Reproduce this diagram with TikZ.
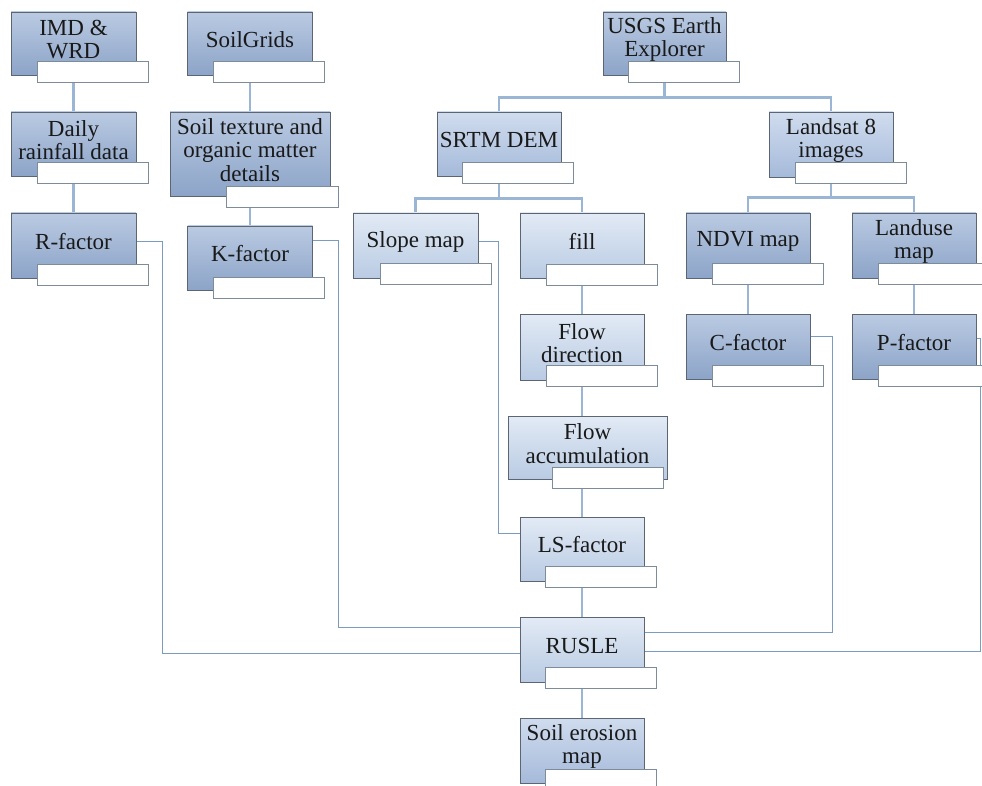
\documentclass[tikz,border=0pt]{standalone}
\usepackage{fontspec}
\setmainfont{Liberation Serif}
\usetikzlibrary{positioning, calc, backgrounds}

\definecolor{darktop}{HTML}{BACAE2}
\definecolor{darkbot}{HTML}{8CA4C8}
\definecolor{midtop}{HTML}{D0DCEE}
\definecolor{midbot}{HTML}{A5BADA}
\definecolor{lighttop}{HTML}{E2EAF5}
\definecolor{lightbot}{HTML}{B9CBE3}
\definecolor{rim}{HTML}{5C6673}
\definecolor{tagrim}{HTML}{7E8B98}
\definecolor{wire}{HTML}{9BB5D5}
\definecolor{thinwire}{HTML}{7B9BBF}

\begin{document}
\begin{tikzpicture}[x=1pt, y=-1pt,
        box/.style={rectangle, draw=rim, line width=0.9pt, inner sep=0pt},
        darkbox/.style={box, top color=darktop, bottom color=darkbot},
        midbox/.style={box, top color=midtop, bottom color=midbot},
        lightbox/.style={box, top color=lighttop, bottom color=lightbot},
        txt/.style={align=center, yshift=4pt, text=black!90, font=\fontsize{23}{23.5}\selectfont},
        tag/.style={rectangle, draw=tagrim, line width=0.8pt, fill=white, inner sep=0pt, minimum width=111pt, minimum height=21pt},
        tree/.style={draw=wire, line width=2.5pt},
        link/.style={draw=thinwire, line width=1pt}]

        \useasboundingbox (0,0) rectangle (982,786);

        % Rainfall branch
        \node [darkbox, minimum width=125pt, minimum height=63pt, label={[txt]center:{IMD \&\\WRD}}] (imd) at (73.5,43.5) {};
        \node [darkbox, minimum width=125pt, minimum height=64pt, label={[txt]center:{Daily\\rainfall data}}] (rain) at (73.5,144) {};
        \node [darkbox, minimum width=125pt, minimum height=65pt, label={[txt]center:{R-factor}}] (rfac) at (73.5,245.5) {};

        % Soil branch
        \node [darkbox, minimum width=125pt, minimum height=63pt, label={[txt]center:{SoilGrids}}] (soilgrids) at (250,43.5) {};
        \node [darkbox, minimum width=160pt, minimum height=84pt, label={[txt]center:{Soil texture and\\organic matter\\details}}] (texture) at (250,154) {};
        \node [darkbox, minimum width=125pt, minimum height=64pt, label={[txt]center:{K-factor}}] (kfac) at (250,258) {};

        % Satellite branch
        \node [darkbox, minimum width=123pt, minimum height=63pt, label={[txt]center:{USGS Earth\\Explorer}}] (usgs) at (664.5,43.5) {};
        \node [midbox, minimum width=124pt, minimum height=64pt, label={[txt]center:{SRTM DEM}}] (srtm) at (499,144) {};
        \node [midbox, minimum width=124pt, minimum height=65pt, label={[txt]center:{Landsat 8\\images}}] (landsat) at (831,144.5) {};

        % DEM products
        \node [lightbox, minimum width=125pt, minimum height=65pt, label={[txt]center:{Slope map}}] (slope) at (415.5,245.5) {};
        \node [lightbox, minimum width=124pt, minimum height=65pt, label={[txt]center:{fill}}] (fill) at (582,245.5) {};
        \node [lightbox, minimum width=124pt, minimum height=66pt, label={[txt]center:{Flow\\direction}}] (flowdir) at (582,347) {};
        \node [lightbox, minimum width=159pt, minimum height=63pt, label={[txt]center:{Flow\\accumulation}}] (flowacc) at (587.5,447.5) {};
        \node [lightbox, minimum width=124pt, minimum height=64pt, label={[txt]center:{LS-factor}}] (lsfac) at (582,549) {};
        \node [lightbox, minimum width=124pt, minimum height=65pt, label={[txt]center:{RUSLE}}] (rusle) at (582,649.5) {};
        \node [midbox, minimum width=124pt, minimum height=65pt, label={[txt]center:{Soil erosion\\map}}] (erosion) at (582,750.5) {};

        % Landsat products
        \node [darkbox, minimum width=124pt, minimum height=65pt, label={[txt]center:{NDVI map}}] (ndvi) at (748,245.5) {};
        \node [darkbox, minimum width=124pt, minimum height=65pt, label={[txt]center:{Landuse\\map}}] (landuse) at (914,245.5) {};
        \node [darkbox, minimum width=124pt, minimum height=65pt, label={[txt]center:{C-factor}}] (cfac) at (748,346.5) {};
        \node [darkbox, minimum width=124pt, minimum height=65pt, label={[txt]center:{P-factor}}] (pfac) at (914,346.5) {};

        % Empty tags
        \node [tag, below left=-14pt and -12pt of imd.south east] (imd-tag) {};
        \node [tag, below left=-14pt and -12pt of rain.south east] (rain-tag) {};
        \node [tag, below left=-14pt and -12pt of rfac.south east] (rfac-tag) {};
        \node [tag, below left=-14pt and -12pt of soilgrids.south east] (soilgrids-tag) {};
        \node [tag, below left=-10pt and -8pt of texture.south east, minimum width=112pt] (texture-tag) {};
        \node [tag, below left=-13pt and -12pt of kfac.south east] (kfac-tag) {};
        \node [tag, below left=-14pt and -13pt of usgs.south east] (usgs-tag) {};
        \node [tag, below left=-14pt and -12pt of srtm.south east] (srtm-tag) {};
        \node [tag, below left=-15pt and -13pt of landsat.south east] (landsat-tag) {};
        \node [tag, below left=-15pt and -13pt of slope.south east] (slope-tag) {};
        \node [tag, below left=-14pt and -13pt of fill.south east] (fill-tag) {};
        \node [tag, below left=-15pt and -13pt of flowdir.south east] (flowdir-tag) {};
        \node [tag, below left=-12pt and 4pt of flowacc.south east] (flowacc-tag) {};
        \node [tag, below left=-15pt and -12pt of lsfac.south east] (lsfac-tag) {};
        \node [tag, below left=-15pt and -12pt of rusle.south east] (rusle-tag) {};
        \node [tag, below left=-14pt and -12pt of erosion.south east] (erosion-tag) {};
        \node [tag, below left=-15pt and -13pt of ndvi.south east] (ndvi-tag) {};
        \node [tag, below left=-15pt and -13pt of landuse.south east] (landuse-tag) {};
        \node [tag, below left=-14pt and -13pt of cfac.south east] (cfac-tag) {};
        \node [tag, below left=-14pt and -13pt of pfac.south east] (pfac-tag) {};

        % Paths
        \begin{scope}[on background layer]
            \path [tree] (imd.south) -- (rain.north);
            \path [tree] (rain.south) -- (rfac.north);
            \path [tree] (soilgrids.south) -- (texture.north);
            \path [tree] (texture.south) -- (kfac.north);
            \path [tree] (usgs.south) -- ++(0,22) -| (srtm.north);
            \path [tree] (usgs.south) -- ++(0,22) -| (landsat.north);
            \path [tree] (srtm.south) -- ++(0,22) -| (slope.north);
            \path [tree] (srtm.south) -- ++(0,22) -| (fill.north);
            \path [tree] (landsat.south) -- ++(0,20) -| (ndvi.north);
            \path [tree] (landsat.south) -- ++(0,20) -| (landuse.north);
            \path [tree] (ndvi.south) -- (cfac.north);
            \path [tree] (landuse.south) -- (pfac.north);
            \path [tree] (fill.south) -- (flowdir.north);
            \path [tree] (flowdir.south) -- (flowdir.south |- flowacc.north);
            \path [tree] (lsfac.north |- flowacc.south) -- (lsfac.north);
            \path [tree] (lsfac.south) -- (rusle.north);
            \path [tree] (rusle.south) -- (erosion.north);

            % Factors into RUSLE
            \path [link] ([yshift=4pt]slope.east) -- ++(20,0) |- ([yshift=16pt]lsfac.west);
            \path [link] ([yshift=4pt]rfac.east) -- ++(26,0) |- ([yshift=-3.5pt]rusle.west);
            \path [link] ([yshift=17pt]kfac.east) -- ++(26,0) |- ([yshift=22.5pt]rusle.west);
            \path [link] ([yshift=10.5pt]cfac.east) -- ++(22,0) |- ([yshift=17.5pt]rusle.east);
            \path [link] ([yshift=8.5pt]pfac.east) -- ++(4,0) |- ([yshift=-1.5pt]rusle.east);
        \end{scope}

    \end{tikzpicture}
\end{document}
